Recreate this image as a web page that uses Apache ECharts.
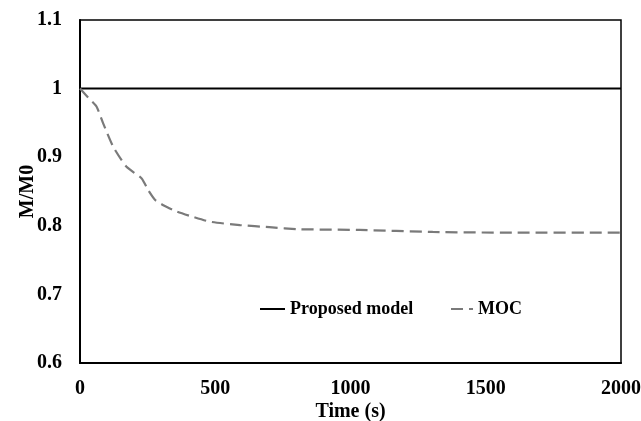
<!DOCTYPE html>
<html>
<head>
<meta charset="utf-8">
<script src="https://cdn.jsdelivr.net/npm/echarts@6/dist/echarts.min.js"></script>
<style>html,body{margin:0;padding:0;background:#fff;}#c{width:641px;height:421px;}</style>
</head>
<body>
<div id="c"></div>
<script>
const timeS = [0, 30, 61, 86, 123, 172, 228, 252, 277, 308, 357, 418, 480, 591, 700, 812, 1034, 1304, 1600, 2000];
const mocValues = [1.0, 0.987, 0.974, 0.949, 0.915, 0.886, 0.869, 0.852, 0.838, 0.830, 0.821, 0.813, 0.806, 0.801, 0.798, 0.795, 0.794, 0.791, 0.790, 0.790];
const proposedTime = [0, 2000];
const proposedValues = [1.0, 1.0];
const seriesNames = ['Proposed model', 'MOC'];

const font = 'Liberation Serif';
const chart = echarts.init(document.getElementById('c'));
const legendText = { fontFamily: font, fontWeight: 'bold', fontSize: 18, color: '#000' };
chart.setOption({
  animation: false,
  backgroundColor: '#ffffff',
  grid: { left: 80, right: 20, top: 20, bottom: 58, show: true, borderColor: '#000', borderWidth: 1.5,
    backgroundColor: 'transparent', containLabel: false, outerBoundsMode: 'none' },
  legend: [
    { data: [seriesNames[0]], left: 259, top: 300, padding: 0, itemWidth: 25, itemHeight: 14,
      itemStyle: { opacity: 0 }, textStyle: legendText },
    { data: [seriesNames[1]], left: 450, top: 300, padding: 0, itemWidth: 22, itemHeight: 14,
      itemStyle: { opacity: 0 }, textStyle: legendText }
  ],
  xAxis: {
    type: 'value', min: 0, max: 2000, interval: 500,
    name: 'Time (s)', nameLocation: 'middle', nameGap: 39, nameMoveOverlap: false,
    nameTextStyle: { fontFamily: font, fontWeight: 'bold', fontSize: 20, color: '#000' },
    axisLine: { show: true, lineStyle: { color: '#000', width: 2 } },
    axisTick: { show: false },
    splitLine: { show: false },
    axisLabel: { margin: 16, fontFamily: font, fontWeight: 'bold', fontSize: 20, color: '#000',
      formatter: v => String(v) }
  },
  yAxis: {
    type: 'value', min: 0.6, max: 1.1, interval: 0.1,
    name: 'M/M0', nameLocation: 'middle', nameGap: 42, nameMoveOverlap: false,
    nameTextStyle: { fontFamily: font, fontWeight: 'bold', fontSize: 20, color: '#000' },
    axisLine: { show: true, lineStyle: { color: '#000', width: 2 } },
    axisTick: { show: false },
    splitLine: { show: false },
    axisLabel: { margin: 18, fontFamily: font, fontWeight: 'bold', fontSize: 20, color: '#000',
      formatter: v => String(Math.round(v * 10) / 10) }
  },
  series: [
    { name: seriesNames[0], type: 'line', symbol: 'none',
      data: proposedTime.map((t, i) => [t, proposedValues[i]]),
      lineStyle: { color: '#000', width: 2 }, itemStyle: { color: '#000' } },
    { name: seriesNames[1], type: 'line', symbol: 'none', smooth: 0.2,
      data: timeS.map((t, i) => [t, mocValues[i]]),
      lineStyle: { color: '#7a7a7a', width: 2.2, type: [12, 6] }, itemStyle: { color: '#7a7a7a' } }
  ]
});
</script>
</body>
</html>
